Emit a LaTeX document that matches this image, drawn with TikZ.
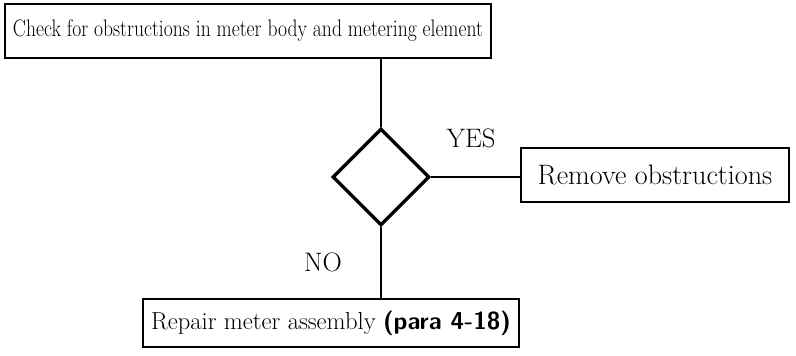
\documentclass[tikz,border=0pt]{standalone}
\usepackage{graphicx}
\usepackage{tikz}
\usetikzlibrary{shapes.geometric,arrows.meta}

\tikzset{
    caixa/.style={draw, line width=2pt, inner sep=0pt},
    decisio/.style={draw, diamond, aspect=1, line width=2.4pt, inner sep=0pt,
        minimum width=2.42cm, minimum height=2.42cm},
    enllac/.style={line width=2pt},
    etiqueta/.style={font=\fontsize{19}{21}\selectfont}
}

\begin{document}
\begin{tikzpicture}[>=Stealth, scale=1]

    % Marges
    \useasboundingbox (0,0) rectangle (19.9,8.9);

    % Caixes
    \node[
        caixa,
        minimum width=12.15cm,
        minimum height=1.35cm,
        font=\fontsize{17}{19}\selectfont
    ] (check) at (6.2,8.125)
        {\scalebox{0.82}[1]{Check for obstructions in meter body and metering element}};
    \node[decisio] (obs) at (9.525,4.475) {};
    \node[
        caixa,
        minimum width=6.7cm,
        minimum height=1.35cm,
        font=\fontsize{20}{22}\selectfont
    ] (remove) at (16.375,4.525)
        {Remove obstructions};
    \node[
        caixa,
        minimum width=9.4cm,
        minimum height=1.2cm,
        font=\fontsize{17.5}{19}\selectfont
    ] (repair) at (8.275,0.825)
        {Repair meter assembly \textsf{\textbf{(para 4-18)}}};

    % Enllacos
    \draw[enllac] (check.south -| obs.north) -- (obs.north);
    \draw[enllac, line width=1.6pt] (obs.east) -- (obs.east -| remove.west);
    \draw[enllac] (obs.south) -- (obs.south |- repair.north);

    % Respostes
    \node[etiqueta] (yes) at (11.775,5.45) {YES};
    \node[etiqueta] (no) at (8.075,2.34) {NO};

\end{tikzpicture}
\end{document}
